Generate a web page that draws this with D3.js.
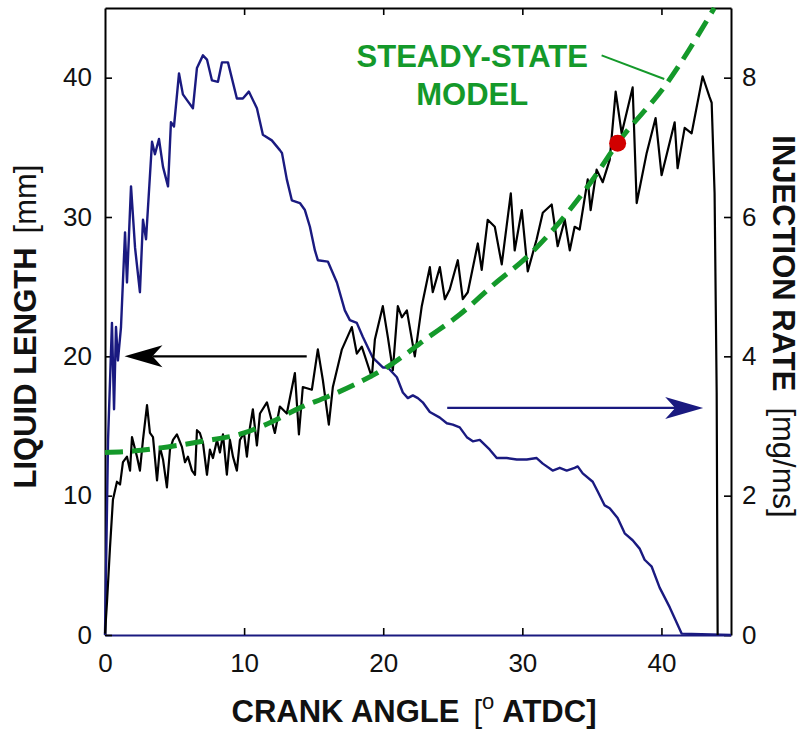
<!DOCTYPE html>
<html>
<head>
<meta charset="utf-8">
<script src="https://cdn.jsdelivr.net/npm/d3@7"></script>
<style>
  body { margin: 0; background: #fff; }
  text { font-family: "Liberation Sans", Arial, Helvetica, sans-serif; }
</style>
</head>
<body>
<div id="chart"></div>
<script>
// ---- data ----
// injection rate [mg/ms] vs crank angle (right axis)
const injectionRate = [
  [0, 0], [0.22, 2.80], [0.50, 4.48], [0.65, 3.24], [0.79, 4.42], [0.93, 3.94], [1.15, 4.42],
  [1.44, 5.78], [1.58, 5.06], [1.87, 6.44], [2.16, 5.56], [2.51, 4.92], [2.73, 5.96], [2.95, 5.68],
  [3.38, 7.08], [3.59, 6.90], [3.88, 7.12], [4.17, 6.72], [4.53, 6.44], [4.74, 7.36], [4.96, 7.30],
  [5.32, 8.06], [5.60, 7.76], [5.96, 7.66], [6.32, 7.56], [6.61, 8.14], [7.04, 8.32], [7.33, 8.26],
  [7.69, 7.96], [8.12, 7.94], [8.41, 8.22], [8.84, 8.22], [9.48, 7.70], [9.91, 7.70], [10.34, 7.80],
  [10.92, 7.56], [11.35, 7.18], [11.99, 7.10], [12.57, 6.96], [12.72, 6.92], [13.07, 6.54], [13.43, 6.24],
  [14.01, 6.20], [14.37, 6.10], [14.73, 5.86], [15.09, 5.52], [15.30, 5.38], [16.02, 5.36], [16.67, 5.06],
  [17.24, 4.66], [17.60, 4.52], [18.10, 4.48], [18.53, 4.28], [19.25, 3.98], [19.97, 3.84], [20.33, 3.84],
  [20.98, 3.70], [21.41, 3.48], [21.77, 3.40], [22.13, 3.44], [22.49, 3.40], [22.84, 3.34], [23.35, 3.20],
  [24.07, 3.12], [24.57, 3.04], [25.00, 3.02], [25.50, 2.98], [26.01, 2.84], [26.44, 2.78], [26.94, 2.80],
  [27.66, 2.66], [28.16, 2.54], [28.88, 2.54], [29.60, 2.52], [30.32, 2.52], [31.03, 2.54], [31.47, 2.46],
  [32.18, 2.36], [32.69, 2.40], [33.19, 2.36], [33.76, 2.40], [33.98, 2.42], [34.34, 2.32], [35.06, 2.20],
  [35.42, 2.06], [35.92, 1.86], [36.28, 1.82], [36.85, 1.68], [37.36, 1.46], [37.93, 1.36], [38.43, 1.24],
  [38.79, 1.08], [39.30, 0.98], [39.87, 0.68], [40.59, 0.40], [41.09, 0.18], [41.45, 0.02], [45, 0]
];

// liquid length [mm] vs crank angle (left axis)
const liquidLength = [
  [0.00, 0.1], [0.14, 2.3], [0.36, 6.3], [0.57, 9.7], [0.86, 11.0], [1.08, 10.8], [1.29, 12.4],
  [1.58, 12.8], [1.80, 11.8], [1.94, 14.2], [2.30, 12.8], [2.51, 11.8], [2.73, 14.0], [3.02, 16.5],
  [3.23, 14.5], [3.45, 14.2], [3.74, 11.1], [3.95, 13.5], [4.17, 12.6], [4.45, 10.6], [4.67, 13.3],
  [4.89, 14.0], [5.17, 14.4], [5.53, 13.5], [5.75, 12.4], [5.96, 12.8], [6.25, 11.8], [6.47, 11.5],
  [6.61, 14.7], [6.82, 14.5], [7.04, 13.8], [7.33, 11.5], [7.54, 13.3], [7.76, 12.7], [8.05, 14.0],
  [8.26, 13.1], [8.48, 14.4], [8.76, 11.5], [8.98, 14.0], [9.20, 12.8], [9.48, 11.8], [9.70, 14.0],
  [9.99, 14.5], [10.20, 12.8], [10.42, 14.9], [10.63, 16.2], [10.92, 13.6], [11.14, 15.9], [11.64, 16.7],
  [12.21, 14.5], [12.57, 16.4], [13.07, 15.9], [13.65, 18.8], [13.94, 14.4], [14.22, 17.8], [14.87, 17.6],
  [15.30, 20.5], [15.66, 18.3], [16.09, 15.1], [16.38, 17.8], [17.03, 20.5], [17.74, 22.1], [18.10, 20.2],
  [18.46, 20.7], [19.18, 18.5], [19.40, 21.2], [19.97, 23.6], [20.33, 21.4], [20.69, 19.0], [21.05, 23.6],
  [21.34, 22.8], [21.70, 23.3], [22.27, 20.0], [22.77, 23.6], [23.35, 26.4], [23.56, 24.6], [24.07, 26.4],
  [24.43, 24.1], [24.78, 24.8], [25.36, 26.9], [25.72, 24.1], [26.08, 24.6], [26.80, 28.1], [27.08, 26.2],
  [27.51, 29.8], [28.02, 29.3], [28.52, 26.6], [29.17, 31.7], [29.45, 27.6], [29.96, 30.5], [30.39, 26.1],
  [31.03, 28.4], [31.47, 30.3], [32.11, 30.9], [32.54, 27.9], [33.05, 29.8], [33.41, 27.6], [33.76, 29.3],
  [34.12, 29.1], [34.70, 32.7], [34.91, 30.5], [35.34, 33.4], [35.78, 32.5], [36.28, 34.1], [36.71, 39.0],
  [37.14, 36.0], [37.93, 39.3], [38.22, 31.0], [38.94, 34.6], [39.58, 37.1], [40.01, 33.0], [40.95, 36.8],
  [41.16, 33.5], [41.67, 36.4], [42.17, 36.0], [42.96, 40.1], [43.46, 38.6], [43.61, 38.2], [43.82, 31.7],
  [43.97, 17.4], [44.04, 0]
];

// steady-state model [mm]
const steadyModel = [
  [0, 13.1], [2, 13.2], [4.5, 13.5], [7, 13.9], [10, 14.5], [12, 15.3], [14, 16.3], [16, 17.1],
  [18, 18.0], [20.7, 19.5], [23, 21.2], [25.5, 23.0], [28, 25.2], [30.3, 27.1], [33.4, 30.5],
  [35, 32.6], [36.85, 35.3], [40.4, 39.6], [43.8, 45.0]
];

const markedPoint = [36.85, 35.3];

const xTicks = [0, 10, 20, 30, 40];
const leftTicks = [0, 10, 20, 30, 40];
const rightTicks = [0, 2, 4, 6, 8];

// annotation arrows [crank, value]
const lengthArrow = [[14.5, 20], [1.4, 20]];       // left axis units
const rateArrow = [[24.6, 3.26], [43.0, 3.26]];    // right axis units

// ---- layout ----
var margin = { top: 8, right: 71, bottom: 94, left: 105 },
    width = 802 - margin.left - margin.right,
    height = 729 - margin.top - margin.bottom;

var svg = d3.select("#chart")
    .append("svg")
    .attr("width", 802)
    .attr("height", 729)
    .append("g")
    .attr("transform", "translate(" + margin.left + "," + margin.top + ")");

var x = d3.scaleLinear().domain([0, 45]).range([0, width]);
var yL = d3.scaleLinear().domain([0, 45]).range([height, 0]);
var yR = d3.scaleLinear().domain([0, 9]).range([height, 0]);

const navy = "#1a1a80";
const green = "#14992a";

// axes
function styleAxis(g) {
  g.selectAll("text").style("font-size", "26px").attr("fill", "#111");
  g.selectAll("line").attr("stroke", "#000").attr("stroke-width", 1.6);
  g.select(".domain").attr("stroke", "#000").attr("stroke-width", 2);
}

svg.append("g")
  .attr("transform", "translate(0," + height + ")")
  .call(d3.axisBottom(x).tickValues(xTicks).tickSizeInner(-7).tickSizeOuter(0).tickPadding(19))
  .call(styleAxis)
  .call(g => g.select(".domain").attr("stroke", navy))
  .call(g => g.selectAll(".tick").filter(d => d === 0).select("line").remove());

svg.append("g")
  .call(d3.axisTop(x).tickValues(xTicks).tickSizeInner(-7).tickSizeOuter(0).tickFormat(""))
  .call(styleAxis)
  .call(g => g.selectAll(".tick").filter(d => d === 0).select("line").remove());

svg.append("g")
  .call(d3.axisLeft(yL).tickValues(leftTicks).tickSizeInner(-7).tickSizeOuter(0).tickPadding(13))
  .call(styleAxis);

svg.append("g")
  .attr("transform", "translate(" + width + ",0)")
  .call(d3.axisRight(yR).tickValues(rightTicks).tickSizeInner(-7).tickSizeOuter(0).tickPadding(11))
  .call(styleAxis);

// lines
svg.append("path")
  .datum(injectionRate)
  .attr("fill", "none")
  .attr("stroke", navy)
  .attr("stroke-width", 2.4)
  .attr("stroke-linejoin", "round")
  .attr("d", d3.line().x(d => x(d[0])).y(d => yR(d[1])));

svg.append("path")
  .datum(liquidLength)
  .attr("fill", "none")
  .attr("stroke", "#000")
  .attr("stroke-width", 2.2)
  .attr("stroke-linejoin", "round")
  .attr("d", d3.line().x(d => x(d[0])).y(d => yL(d[1])));

svg.append("path")
  .datum(steadyModel)
  .attr("fill", "none")
  .attr("stroke", green)
  .attr("stroke-width", 5)
  .attr("stroke-dasharray", "18,9")
  .attr("d", d3.line().curve(d3.curveMonotoneX).x(d => x(d[0])).y(d => yL(d[1])));

svg.append("circle")
  .attr("cx", x(markedPoint[0]))
  .attr("cy", yL(markedPoint[1]))
  .attr("r", 8.5)
  .attr("fill", "#d10000");

// arrows
function arrow(p0, p1, color) {
  var x0 = p0[0], y0 = p0[1], x1 = p1[0], y1 = p1[1];
  var ang = Math.atan2(y1 - y0, x1 - x0);
  var len = 38, half = 11, notch = 28;
  function pt(a, b) {
    return [x1 + a * Math.cos(ang) - b * Math.sin(ang), y1 + a * Math.sin(ang) + b * Math.cos(ang)];
  }
  svg.append("line")
    .attr("x1", x0).attr("y1", y0)
    .attr("x2", pt(-notch, 0)[0]).attr("y2", pt(-notch, 0)[1])
    .attr("stroke", color).attr("stroke-width", 2.2);
  svg.append("path")
    .attr("d", "M" + [x1, y1] + "L" + pt(-len, -half) + "L" + pt(-notch, 0) + "L" + pt(-len, half) + "Z")
    .attr("fill", color);
}
arrow([x(lengthArrow[0][0]), yL(lengthArrow[0][1])], [x(lengthArrow[1][0]), yL(lengthArrow[1][1])], "#000");
arrow([x(rateArrow[0][0]), yR(rateArrow[0][1])], [x(rateArrow[1][0]), yR(rateArrow[1][1])], navy);

// steady-state annotation
svg.append("line")
  .attr("x1", x(35.7)).attr("y1", yL(41.6))
  .attr("x2", x(40.2)).attr("y2", yL(39.9))
  .attr("stroke", green).attr("stroke-width", 2);

svg.append("text")
  .attr("x", x(26.4)).attr("y", yL(40.8))
  .attr("text-anchor", "middle")
  .style("font-size", "31px").style("font-weight", "bold")
  .attr("fill", green)
  .text("STEADY-STATE");

svg.append("text")
  .attr("x", x(26.4)).attr("y", yL(38.05))
  .attr("text-anchor", "middle")
  .style("font-size", "31px").style("font-weight", "bold")
  .attr("fill", green)
  .text("MODEL");

// axis titles
var xl = svg.append("text")
  .attr("x", width / 2 - 4).attr("y", height + 87)
  .attr("text-anchor", "middle")
  .style("font-size", "31px").attr("fill", "#111");
xl.append("tspan").style("font-weight", "bold").text("CRANK ANGLE");
xl.append("tspan").attr("dx", 14).text("[");
xl.append("tspan").attr("dy", -13).style("font-size", "22px").text("o");
xl.append("tspan").attr("dy", 13).attr("dx", 8).style("font-weight", "bold").text("ATDC]");

var ll = svg.append("text")
  .attr("transform", "translate(" + (36 - margin.left) + "," + (height / 2 + 5) + ") rotate(-90)")
  .attr("text-anchor", "middle")
  .style("font-size", "31px").attr("fill", "#111");
ll.append("tspan").style("font-weight", "bold").text("LIQUID LENGTH");
ll.append("tspan").attr("dx", 14).text("[mm]");

var rl = svg.append("text")
  .attr("transform", "translate(" + (width + 42) + "," + (height / 2 + 5) + ") rotate(90)")
  .attr("text-anchor", "middle")
  .style("font-size", "31px").attr("fill", "#111");
rl.append("tspan").style("font-weight", "bold").text("INJECTION RATE");
rl.append("tspan").attr("dx", 16).text("[mg/ms]");
</script>
</body>
</html>
